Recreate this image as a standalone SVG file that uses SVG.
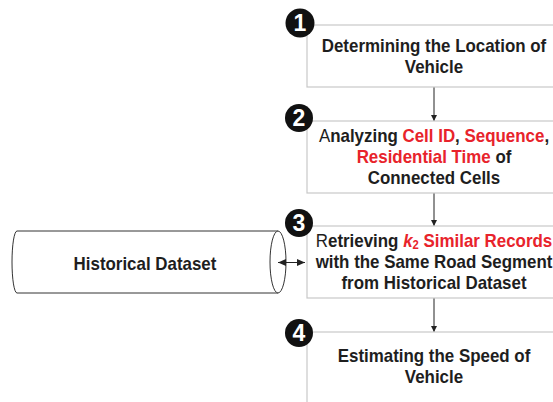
<svg xmlns="http://www.w3.org/2000/svg" width="553" height="402" viewBox="0 0 553 402">
<style>
.box{fill:#fff;stroke:#c8c8c8;stroke-width:1.2}
.t{font-family:"Liberation Sans",Arial,sans-serif;font-size:18px;font-weight:bold;fill:#1e1e1e;text-anchor:middle}
.r{fill:#e8232b}
.n{font-weight:normal}
.num{font-family:"Liberation Sans",Arial,sans-serif;font-size:23px;font-weight:bold;fill:#fff;text-anchor:middle}
.c{fill:#111}
.line{stroke:#222;stroke-width:1;fill:none}
.cyl{fill:#fff;stroke:#333;stroke-width:1}
</style>
<defs>
<marker id="ah" markerWidth="6" markerHeight="6" refX="6" refY="3" orient="auto" markerUnits="userSpaceOnUse">
<path d="M0,0 L6,3 L0,6 Z" fill="#222"/>
</marker>
<marker id="ah2" markerWidth="8" markerHeight="7" refX="8" refY="3.5" orient="auto" markerUnits="userSpaceOnUse">
<path d="M0,0 L8,3.5 L0,7 Z" fill="#222"/>
</marker>
<marker id="ah2s" markerWidth="8" markerHeight="7" refX="0" refY="3.5" orient="auto" markerUnits="userSpaceOnUse">
<path d="M8,0 L0,3.5 L8,7 Z" fill="#222"/>
</marker>
</defs>
<rect width="553" height="402" fill="#fff"/>

<g id="dataset">
<path class="cyl" d="M17,231 L278,231 L278,293 L17,293 A5,31 0 0 1 17,231 Z"/>
<ellipse class="cyl" cx="278" cy="262" rx="8" ry="31"/>
<text class="t" x="145" y="270" transform="matrix(0.94 0 0 1 8.7 0)">Historical Dataset</text>
</g>

<g id="connectors">
<line class="line" x1="434" y1="87" x2="434" y2="121" marker-end="url(#ah)"/>
<line class="line" x1="434" y1="193" x2="434" y2="226" marker-end="url(#ah)"/>
<line class="line" x1="434" y1="298" x2="434" y2="332" marker-end="url(#ah)"/>
<line class="line" x1="278" y1="262.5" x2="305" y2="262.5" marker-start="url(#ah2s)" marker-end="url(#ah2)"/>
</g>

<g id="step1">
<rect class="box" x="307" y="25" width="260" height="62"/>
<g transform="matrix(0.94 0 0 1 26.04 0)">
<text class="t" x="434" y="52">Determining the Location of</text>
<text class="t" x="434" y="73">Vehicle</text>
</g>
<circle class="c" cx="300" cy="23" r="14.5"/>
<text class="num" x="300" y="31">1</text>
</g>

<g id="step2">
<rect class="box" x="307" y="121" width="260" height="72"/>
<g transform="matrix(0.94 0 0 1 26.04 0)">
<text class="t" x="434" y="142"><tspan class="n">A</tspan>nalyzing <tspan class="r">Cell ID</tspan>, <tspan class="r">Sequence</tspan>,</text>
<text class="t" x="434" y="163"><tspan class="r">Residential Time</tspan> of</text>
<text class="t" x="434" y="184">Connected Cells</text>
</g>
<circle class="c" cx="299" cy="118" r="14"/>
<text class="num" x="299" y="126">2</text>
</g>

<g id="step3">
<rect class="box" x="307" y="226" width="260" height="72"/>
<g transform="matrix(0.94 0 0 1 26.04 0)">
<text class="t" x="434" y="247"><tspan class="n">R</tspan>etrieving <tspan class="r" font-style="italic">k</tspan><tspan class="r" font-size="12" dy="2">2</tspan><tspan class="r" dy="-2"> Similar Records</tspan></text>
<text class="t" x="434" y="268">with the Same Road Segment</text>
<text class="t" x="434" y="289">from Historical Dataset</text>
</g>
<circle class="c" cx="299" cy="223" r="14"/>
<text class="num" x="299" y="231">3</text>
</g>

<g id="step4">
<rect class="box" x="307" y="332" width="260" height="90"/>
<g transform="matrix(0.94 0 0 1 26.04 0)">
<text class="t" x="434" y="362">Estimating the Speed of</text>
<text class="t" x="434" y="383">Vehicle</text>
</g>
<circle class="c" cx="299" cy="333" r="14"/>
<text class="num" x="299" y="341">4</text>
</g>
</svg>
